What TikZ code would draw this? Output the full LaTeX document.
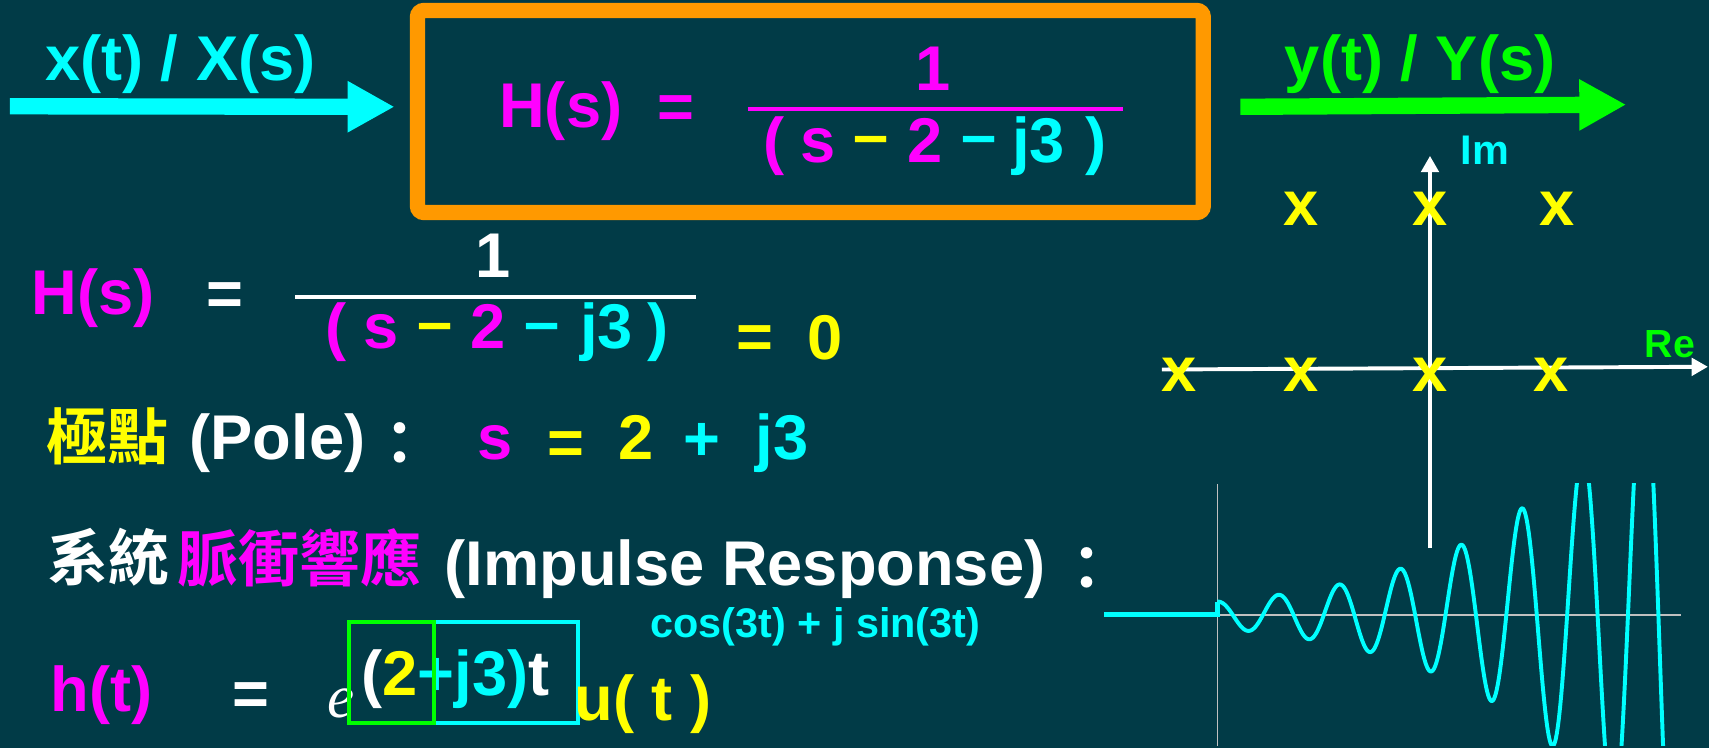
\documentclass[tikz,border=0pt]{standalone}
\usepackage{fontspec}
\setmainfont{Liberation Sans}
\newfontfamily\cjk{Noto Sans CJK TC Bold}
\newfontfamily\tnr{Liberation Serif}
\usetikzlibrary{arrows.meta}
\definecolor{bg}{HTML}{013B47}
\definecolor{mag}{HTML}{FF00FF}
\definecolor{cya}{HTML}{00FFFF}
\definecolor{yel}{HTML}{FFFF00}
\definecolor{grn}{HTML}{00FF00}
\definecolor{org}{HTML}{FF9900}
\definecolor{axgray}{HTML}{C0C0C0}
\begin{document}
\begin{tikzpicture}[x=0.5pt,y=-0.5pt,
 lbl/.style={inner sep=0pt, outer sep=0pt, font=\fontsize{29pt}{30pt}\selectfont\bfseries},
 lblb/.style={lbl, anchor=base},
 lblc/.style={lbl, anchor=center},
 cjkc/.style={inner sep=0pt, outer sep=0pt, anchor=center, font=\fontsize{28pt}{30pt}\selectfont\cjk},
 bigarrow/.style={line width=7.5pt, -{Triangle[length=21.5pt,width=22pt]}},
 axisarrow/.style={white, line width=1.8pt, -{Triangle[length=7.5pt,width=8pt]}},
 pole/.style={lblc, text=yel},
 small/.style={font=\fontsize{19pt}{20pt}\selectfont\bfseries},
]
\fill[bg] (0,0) rectangle (1568,686);
\useasboundingbox (0,0) rectangle (1568,686);

% input / output arrows
\coordinate (xs) at (9,97.5); \coordinate (xe) at (362,98);
\draw[bigarrow, cya] (xs) -- (xe);
\node[lblb, text=cya] (xlab) at (165.5,74) {x(t) / X(s)};
\coordinate (ys) at (1138,98); \coordinate (ye) at (1492,96);
\draw[bigarrow, grn] (ys) -- (ye);
\node[lblb, text=grn] (ylab) at (1303,74) {y(t) / Y(s)};

% system box
\node[draw=org, line width=7pt, rounded corners=3pt, minimum width=360.5pt, minimum height=92.7pt, inner sep=0pt] (hbox) at (743.5,102.3) {};
\node[lblb,text=mag] (h1) at (514.5,117) {H(s)};
\node[lblc,text=mag] (eq1) at (620,103) {=};
\node[lblb,text=mag] (n1) at (856,83) {1};
\coordinate (b1l) at (686,100); \coordinate (b1r) at (1030,100);
\draw[mag, line width=2pt] (b1l) -- (b1r);
\node[lblb,text=mag] (d1a) at (710,149.5) {(};
\node[lblb,text=mag] (d1b) at (751,149.5) {s};
\node[lblc,text=yel] (d1c) at (799.5,134) {–};
\node[lblb,text=mag] (d1d) at (848.5,149.5) {2};
\node[lblc,text=cya] (d1e) at (898.5,134) {–};
\node[lblb,text=cya] (d1f) at (953,149.5) {j3};
\node[lblb,text=cya] (d1g) at (1006,149.5) {)};

% second formula
\node[lblb,text=mag] (h2) at (85.5,289) {H(s)};
\node[lblc,text=white] (eq2) at (206.5,274.5) {=};
\node[lblb,text=white] (n2) at (452.5,255) {1};
\coordinate (b2l) at (271,272.5); \coordinate (b2r) at (639,272.5);
\draw[white, line width=1.9pt] (b2l) -- (b2r);
\node[lblb,text=mag] (d2a) at (308,320) {(};
\node[lblb,text=mag] (d2b) at (350,320) {s};
\node[lblc,text=yel] (d2c) at (399.5,306) {–};
\node[lblb,text=mag] (d2d) at (447.5,320) {2};
\node[lblc,text=cya] (d2e) at (497,306) {–};
\node[lblb,text=cya] (d2f) at (556.5,320) {j3};
\node[lblb,text=cya] (d2g) at (604,320) {)};
\node[lblc,text=yel] (eq3) at (692.5,314) {=};
\node[lblb,text=yel] (zero) at (757,330) {0};

% pole line
\node[cjkc,text=yel] (pole1) at (99,400.5) {極點};
\node[lblb,text=white] (pole2) at (254.5,422) {(Pole)};
\node[cjkc,text=white] (col1) at (367,407) {：};
\node[lblb,text=mag] (ps) at (454.5,422) {s};
\node[lblc,text=yel] (peq) at (519,411) {=};
\node[lblb,text=yel] (p2) at (583.5,422) {2};
\node[lblc,text=cya] (pplus) at (644,405.5) {+};
\node[lblb,text=cya] (pj3) at (717.5,422) {j3};

% impulse response line
\node[cjkc,text=white] (ir1) at (99.5,511.5) {系統};
\node[cjkc,text=mag] (ir2) at (275,511.5) {脈衝響應};
\node[lblb,text=white] (ir3) at (683.5,537) {(Impulse Response)};
\node[cjkc,text=white] (col2) at (997.5,522) {：};

% h(t)
\node[lblb,text=mag] (ht) at (93,653) {h(t)};
\node[lblc,text=white] (eq4) at (230.5,641) {=};
\node[inner sep=0pt, outer sep=0pt, anchor=base, text=white, font=\fontsize{28pt}{30pt}\selectfont\tnr\itshape] (ee) at (312.5,658) {e};
\node[lblb] (expo) at (418,638) {\textcolor{white}{(}\textcolor{yel}{2}\textcolor{cya}{+j3)}\textcolor{white}{t}};
\node[draw=cya, line width=1.75pt, minimum width=66pt, minimum height=46pt, inner sep=0pt] (cbox) at (464,617) {};
\node[draw=grn, line width=1.75pt, minimum width=39pt, minimum height=46pt, inner sep=0pt] (gbox) at (359,617) {};
\node[lblb,text=yel] (ut) at (590,661) {u( t )};
\node[lblb,text=cya,small] (euler) at (748,585) {cos(3t) + j sin(3t)};

% pole-zero plane
\coordinate (imb) at (1312,503); \coordinate (imt) at (1312,143);
\draw[axisarrow] (imb) -- (imt);
\coordinate (rel) at (1066,339); \coordinate (rer) at (1567,336.5);
\draw[axisarrow] (rel) -- (rer);
\node[lblc,text=cya,small] (im) at (1362.5,138) {Im};
\node[lblc,text=grn,font=\fontsize{18pt}{20pt}\selectfont\bfseries] (re) at (1532,316) {Re};
\node[pole] (x1) at (1194,192) {x};
\node[pole] (x2) at (1312,192) {x};
\node[pole] (x3) at (1429,192) {x};
\node[pole] (x4) at (1082,344) {x};
\node[pole] (x5) at (1194,344) {x};
\node[pole] (x6) at (1312,344) {x};
\node[pole] (x7) at (1423,344) {x};

% impulse response plot
\coordinate (vt) at (1117,444); \coordinate (vb) at (1117,684);
\coordinate (hl) at (1013,564); \coordinate (hr) at (1542,564);
\draw[axgray, line width=0.8pt] (vt) -- (vb);
\draw[axgray, line width=0.8pt] (hl) -- (hr);
\begin{scope}
\clip (1000,444) rectangle (1600,684);
\draw[cya, line width=1.8pt, line join=round] plot[domain=0:412, samples=500] ({1117+\x},{564-12*exp(0.0075*\x)*cos(\x*6.4516)});
\end{scope}
\coordinate (o) at (1117,564); \coordinate (s0) at (1117,552);
\draw[cya, line width=2.2pt] (hl) -- (o) -- (s0);
\end{tikzpicture}
\end{document}
